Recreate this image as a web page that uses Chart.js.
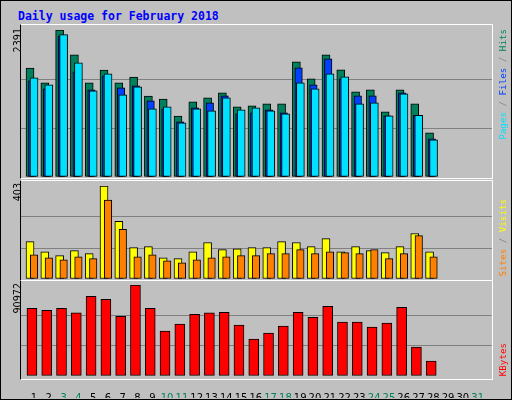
<!DOCTYPE html>
<html><head><meta charset="utf-8">
<script src="https://cdn.jsdelivr.net/npm/chart.js@4"></script>
<style>
body{margin:0;background:#fff}
#w{position:relative;width:510px;height:398px;background:#c0c0c0;border:1px solid #000;overflow:hidden}
canvas{position:absolute}
.f{position:absolute;border-top:1px solid #fff;border-right:1px solid #fff;border-left:1px solid #000;border-bottom:1px solid #fff;pointer-events:none;box-sizing:border-box}
.r{position:absolute;transform-origin:top left;transform:rotate(-90deg) translateX(-100%);white-space:nowrap;line-height:1}
.n{font:9.6px "DejaVu Sans",sans-serif;color:#000}
.m{font:9.2px "DejaVu Sans Mono",monospace}
#t{position:absolute;left:17px;top:8px;font:bold 11.5px "DejaVu Sans Mono",monospace;color:#0000ff}
</style></head><body>
<div id="w">
<div id="t">Daily usage for February 2018</div>
<canvas id="c1" style="left:20px;top:24px;width:471px;height:153px"></canvas>
<canvas id="c2" style="left:20px;top:180px;width:471px;height:99px"></canvas>
<canvas id="c3" style="left:20px;top:280px;width:471px;height:120px"></canvas>
<div class="f" style="left:19px;top:23px;width:473px;height:155px"></div>
<div class="f" style="left:19px;top:179px;width:473px;height:101px"></div>
<div class="f" style="left:19px;top:279px;width:473px;height:100px"></div>
<div class="r n" style="left:11px;top:27px">2391</div>
<div class="r n" style="left:11px;top:182px">403</div>
<div class="r n" style="left:11px;top:282px">90972</div>
<div class="r m" style="left:496px;top:28px"><span style="color:#00e0ff">Pages</span><span style="color:#808080"> / </span><span style="color:#0040ff">Files</span><span style="color:#808080"> / </span><span style="color:#00805c">Hits</span></div>
<div class="r m" style="left:496px;top:198px"><span style="color:#ff8000">Sites</span><span style="color:#808080"> / </span><span style="color:#ffff00">Visits</span></div>
<div class="r m" style="left:496px;top:342px;color:#ff0000">KBytes</div>
</div>
<script>
const days=[1,2,3,4,5,6,7,8,9,10,11,12,13,14,15,16,17,18,19,20,21,22,23,24,25,26,27,28];
const dayLabels=['1','2','3','4','5','6','7','8','9','10','11','12','13','14','15','16','17','18','19','20','21','22','23','24','25','26','27','28','29','30','31'];
const weekendDays=[3,4,10,11,17,18,24,25,31];
const hits=[1772,1532,2391,1989,1532,1739,1532,1625,1315,1266,989,1223,1288,1369,1141,1157,1190,1190,1875,1598,1989,1744,1386,1418,1060,1418,1190,717];
const files=[1565,1435,2293,1712,1418,1647,1451,1484,1239,1109,897,1125,1206,1320,1027,1043,1092,1043,1777,1500,1924,1598,1320,1320,994,1369,1005,620];
const pages=[1614,1500,2315,1858,1402,1679,1337,1467,1109,1141,880,1109,1076,1288,1092,1125,1076,1027,1532,1435,1679,1630,1190,1206,994,1353,1005,603];
const sites=[162,118,101,123,110,403,250,136,140,92,88,118,158,127,131,136,136,162,158,140,175,118,140,123,114,140,197,118];
const visits=[105,92,83,96,88,342,215,96,105,79,70,83,92,96,101,101,110,110,127,110,118,114,110,127,88,110,188,96];
const kbytes=[67728,65736,67728,63080,79680,76692,59760,90972,67728,44820,51792,61752,63080,63744,50796,36852,42828,49800,63744,58764,69720,53784,53784,48804,52788,68724,28884,14940];
const max1=2391,max2=403,max3=90972;

function pts(vals,off){return vals.map((v,i)=>({x:days[i]+off,y:v}));}
function ds(vals,off,color,w,order){return {data:pts(vals,off),backgroundColor:color,borderColor:'#000',borderWidth:1,borderSkipped:false,barThickness:w,order:order,grouped:false};}
function opts(max,withX){
  const x={type:'linear',min:0.12,max:31.95,offset:false,display:withX,grid:{display:false},border:{display:false},
        afterBuildTicks:s=>{s.ticks=dayLabels.map((l,i)=>({value:i+1}));},
        ticks:{padding:8,autoSkip:false,maxRotation:0,font:{family:'DejaVu Sans',size:10},
          color:c=>weekendDays.includes(c.tick.value)?'#00805c':'#000',
          callback:(v,i)=>dayLabels[i]}};
  if(withX) x.afterFit=s=>{s.height=22;};
  return {responsive:false,animation:false,devicePixelRatio:1,
    layout:{padding:{top:withX?4:5,bottom:withX?3:1,left:0,right:0}},
    plugins:{legend:{display:false},tooltip:{enabled:false}},
    scales:{
      x:x,
      y:{min:0,max:max,border:{display:false},ticks:{display:false,stepSize:max/3},
        afterBuildTicks:s=>{s.ticks=[0,1,2,3].map(k=>({value:max*k/3}));},
        afterFit:s=>{s.width=0;},
        grid:{drawTicks:false,color:c=>(c.tick.value>0&&c.tick.value<max-1)?'#808080':'rgba(0,0,0,0)'}}
    }};
}
function mk(id,w,h,datasets,max,withX){
  const c=document.getElementById(id);c.width=w;c.height=h;
  new Chart(c,{type:'bar',data:{datasets:datasets},options:opts(max,withX)});
}
mk('c1',471,153,[ds(hits,-0.27,'#00805c',8,3),ds(files,-0.12,'#0040ff',7.5,2),ds(pages,0,'#00e0ff',8,1)],max1,false);
mk('c2',471,99,[ds(sites,-0.27,'#ffff00',8,2),ds(visits,0,'#ff8000',7.5,1)],max2,false);
mk('c3',471,120,[ds(kbytes,-0.14,'#ff0000',10,1)],max3,true);
</script></body></html>
